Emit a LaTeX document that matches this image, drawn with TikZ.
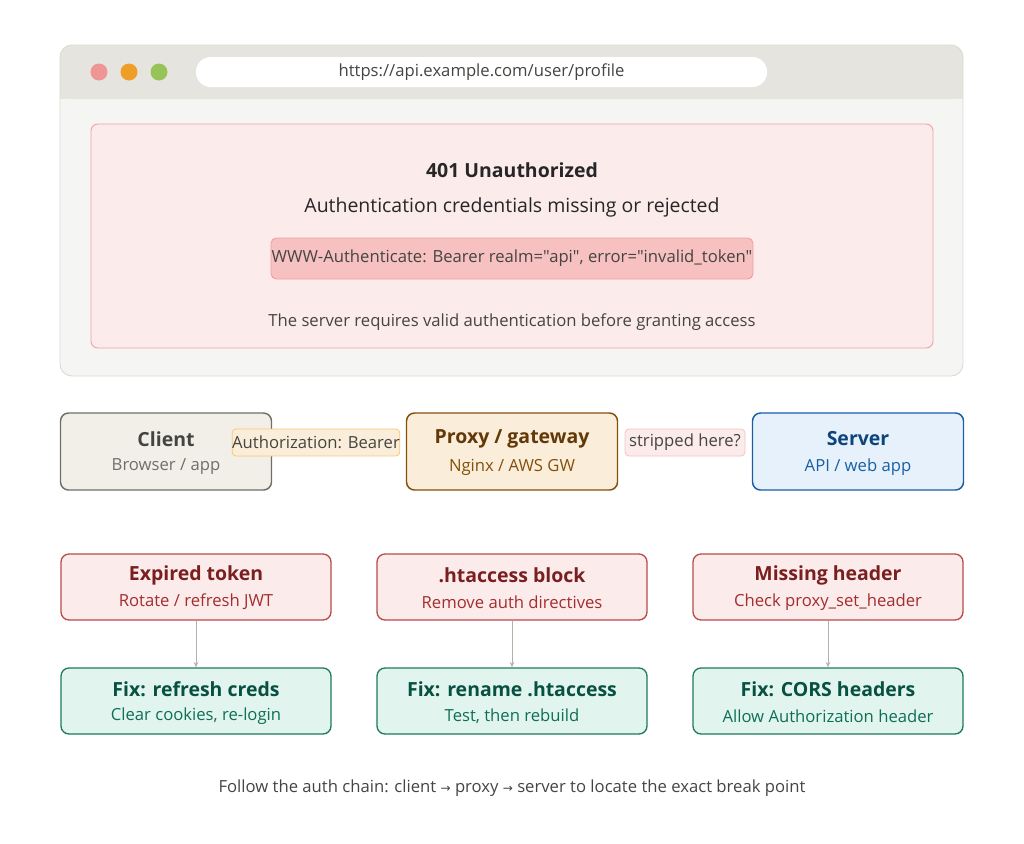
\documentclass[tikz,border=0pt]{standalone}
\usepackage{fontspec}
\setmainfont{Open Sans}[Ligatures=TeXOff]
\newfontfamily\symfont{DejaVu Sans}
\usetikzlibrary{arrows.meta,calc}
\definecolor{winfill}{HTML}{F5F5F3}
\definecolor{winline}{HTML}{DCDAD4}
\definecolor{barfill}{HTML}{E6E4DF}
\definecolor{dotred}{HTML}{F09595}
\definecolor{dotorange}{HTML}{EF9F27}
\definecolor{dotgreen}{HTML}{97C459}
\definecolor{txtgray}{HTML}{444441}
\definecolor{errfill}{HTML}{FCEBEB}
\definecolor{errline}{HTML}{F0A0A0}
\definecolor{hdrfill}{HTML}{F7C1C1}
\definecolor{cltfill}{HTML}{F1EFE8}
\definecolor{cltline}{HTML}{6F6E69}
\definecolor{cltsub}{HTML}{6F6E69}
\definecolor{pxyfill}{HTML}{FAEEDA}
\definecolor{pxyline}{HTML}{854F0B}
\definecolor{pxytitle}{HTML}{633806}
\definecolor{pxylbl}{HTML}{FAC775}
\definecolor{srvfill}{HTML}{E6F1FB}
\definecolor{srvline}{HTML}{185FA5}
\definecolor{srvtitle}{HTML}{0C447C}
\definecolor{badline}{HTML}{B84A4A}
\definecolor{badtitle}{HTML}{791F1F}
\definecolor{badsub}{HTML}{A32D2D}
\definecolor{fixfill}{HTML}{E1F5EE}
\definecolor{fixline}{HTML}{1D7A5F}
\definecolor{fixtitle}{HTML}{085041}
\definecolor{fixsub}{HTML}{0F6E56}
\definecolor{arrowgray}{HTML}{B4B2A9}
\newcommand{\rarr}{{\symfont\fontsize{9}{12}\selectfont →}}

\begin{document}
\begin{tikzpicture}[x=0.75pt, y=-0.75pt,
    big/.style={font=\fontsize{14.6}{16}\selectfont},
    bold/.style={font=\fontsize{14.6}{16}\selectfont\bfseries},
    small/.style={font=\fontsize{12.5}{14}\selectfont},
    hop/.style={draw, rounded corners=6pt, line width=1.1pt, minimum width=158.25pt, minimum height=57.75pt},
    cause/.style={draw=badline, fill=errfill, rounded corners=6pt, line width=1pt, minimum width=202.5pt, minimum height=49.5pt},
    fix/.style={draw=fixline, fill=fixfill, rounded corners=6pt, line width=1pt, minimum width=202.5pt, minimum height=49.5pt},
    tag/.style={small, rounded corners=3pt, line width=0.6pt, inner sep=0pt, minimum height=20.25pt, text=txtgray},
    link/.style={arrowgray, line width=0.7pt, -{Stealth[length=4pt, width=3.5pt]}}]
    \useasboundingbox (0,0) rectangle (1024,843);

    % Browser window
    \fill[winfill, rounded corners=9pt] (60,45) rectangle (963,376);
    \fill[barfill, rounded corners=9pt] (60,45) rectangle (963,99);
    \fill[barfill] (60,80) rectangle (963,99);
    \draw[winline, line width=0.7pt, rounded corners=9pt] (60,45) rectangle (963,376);
    \fill[dotred] (99,72) circle (8.5);
    \fill[dotorange] (129,72) circle (8.5);
    \fill[dotgreen] (159,72) circle (8.5);
    \node[fill=white, rounded corners=11pt, minimum width=428.25pt, minimum height=22.5pt,
        small, text=txtgray] (url) at (481.5,72) {https://api.example.com/user/profile};

    % Error page
    \node[draw=errline, fill=errfill, rounded corners=5pt, line width=0.7pt,
        minimum width=631.5pt, minimum height=168pt] (err) at (512,236) {};
    \node[bold, text=black!85] (code) at (512,170) {401 Unauthorized};
    \node[big, text=black!85] (reason) at (512,207) {Authentication credentials missing or rejected};
    \node[draw=errline, fill=hdrfill, rounded corners=4pt, line width=0.7pt,
        minimum width=361.5pt, minimum height=30.75pt] (hdr) at (512,258.5) {};
    \node[small, text=txtgray] at (hdr) {WWW-Authenticate: Bearer realm="api", error="invalid\_token"};
    \node[small, text=txtgray] (hint) at (512,322) {The server requires valid authentication before granting access};

    % Request chain
    \node[hop, draw=cltline, fill=cltfill] (client) at (166,451.5) {};
    \node[hop, draw=pxyline, fill=pxyfill] (proxy) at (512,451.5) {};
    \node[hop, draw=srvline, fill=srvfill] (server) at (858,451.5) {};
    \node[bold, text=txtgray] at (166,439) {Client};
    \node[small, text=cltsub] at (166,467) {Browser / app};
    \node[bold, text=pxytitle] at (512,439) {Proxy / gateway};
    \node[small, text=pxyline] at (512,467) {Nginx / AWS GW};
    \node[bold, text=srvtitle] at (858,439) {Server};
    \node[small, text=srvline] at (858,467) {API / web app};
    \node[tag, draw=pxylbl, fill=pxyfill, minimum width=124.5pt] (auth) at (316,442.5) {Authorization: Bearer};
    \node[tag, draw=hdrfill, fill=errfill, minimum width=90pt] (strip) at (685,442.5) {stripped here?};

    % Causes
    \node[cause] (expired) at (196,587) {};
    \node[cause] (htaccess) at (512,587) {};
    \node[cause] (missing) at (828,587) {};
    \foreach \x/\ttl/\sub in {196/{Expired token}/{Rotate / refresh JWT},
        512/{.htaccess block}/{Remove auth directives},
        828/{Missing header}/{Check proxy\_set\_header}} {
        \node[bold, text=badtitle] at (\x,575) {\ttl};
        \node[small, text=badsub] at (\x,602) {\sub};
    }

    % Fixes
    \node[fix] (refresh) at (196,701) {};
    \node[fix] (rename) at (512,701) {};
    \node[fix] (cors) at (828,701) {};
    \foreach \x/\ttl/\sub in {196/{Fix: refresh creds}/{Clear cookies, re-login},
        512/{Fix: rename .htaccess}/{Test, then rebuild},
        828/{Fix: CORS headers}/{Allow Authorization header}} {
        \node[bold, text=fixtitle] at (\x,689) {\ttl};
        \node[small, text=fixsub] at (\x,716) {\sub};
    }
    \draw[link] (expired) -- (refresh);
    \draw[link] (htaccess) -- (rename);
    \draw[link] (missing) -- (cors);

    \node[small, text=txtgray] (footer) at (512,788) {Follow the auth chain: client \rarr{} proxy \rarr{} server to locate the exact break point};
\end{tikzpicture}
\end{document}
